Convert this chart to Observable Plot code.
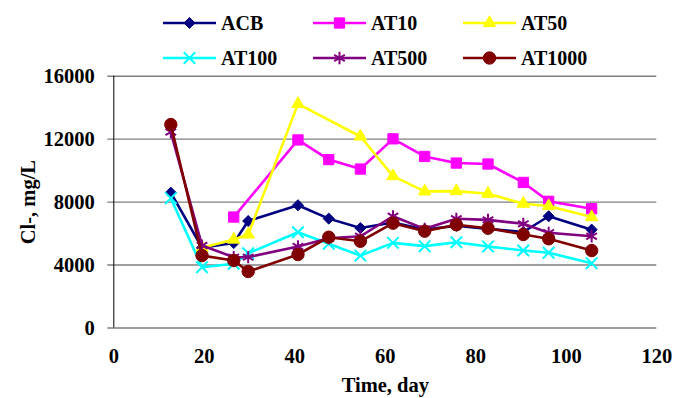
<!DOCTYPE html>
<html>
<head>
<meta charset="utf-8">
<script src="https://cdn.jsdelivr.net/npm/d3@7"></script>
<script src="https://cdn.jsdelivr.net/npm/@observablehq/plot@0.6"></script>
<style>
  html, body { margin: 0; padding: 0; background: #fff; }
  #wrap { width: 685px; height: 398px; font-family: "Liberation Serif", "DejaVu Serif", serif; }
  #legend { box-sizing: border-box; height: 62px; padding-left: 163px; padding-top: 5.5px;
            display: grid; grid-template-columns: repeat(3, 150px); grid-auto-rows: 35px; }
  .item { display: flex; align-items: center; gap: 4px; font-weight: bold; font-size: 20px; color: #000; }
  .item svg { display: block; }
  #chart svg text { font-family: "Liberation Serif", "DejaVu Serif", serif; }
</style>
</head>
<body>
<div id="wrap">
  <div id="legend"></div>
  <div id="chart"></div>
</div>
<script>
// ---- data ----
const days = [12.6, 19.5, 26.5, 29.7, 40.7, 47.5, 54.5, 61.7, 68.7, 75.7, 82.7, 90.5, 96.1, 105.6];
const seriesNames = ["ACB", "AT10", "AT50", "AT100", "AT500", "AT1000"];
const ACB    = [8600, 5100, 5400, 6800, 7800, 6950, 6350, 6700, 6250, 6500, 6300, 6100, 7100, 6250];
const AT10   = [null, null, 7050, null, 11950, 10700, 10100, 12020, 10900, 10480, 10420, 9250, 8050, 7580];
const AT50   = [null, 5100, 5620, 5940, 14240, null, 12170, 9650, 8680, 8700, 8530, 7900, 7750, 7050];
const AT100  = [8250, 3860, 4080, 4750, 6080, 5350, 4600, 5410, 5200, 5450, 5180, 4920, 4780, 4120];
const AT500  = [12450, 5240, 4500, 4500, 5180, 5700, 5830, 7100, 6300, 6940, 6870, 6620, 6050, 5830];
const AT1000 = [12930, 4600, 4290, 3590, 4670, 5770, 5510, 6660, 6150, 6560, 6340, 5940, 5670, 4920];
const xTicks = [0, 20, 40, 60, 80, 100, 120];
const yTicks = [0, 4000, 8000, 12000, 16000];
const colors = ["#000080", "#FF00FF", "#FFFF00", "#00FFFF", "#800080", "#800000"];

// ---- styles ----
const styles = [
  {symbol: "diamond2", r: 5.0, fill: true,  sw: 1},
  {symbol: "square",   r: 5.8, fill: true,  sw: 1},
  {symbol: "triangle", r: 4.6, fill: true,  sw: 1},
  {symbol: "times",    r: 5.3, fill: false, sw: 2},
  {symbol: "asterisk", r: 5.8, fill: false, sw: 2},
  {symbol: "circle",   r: 6.2, fill: true,  sw: 1}
];
const d3Symbols = {diamond2: d3.symbolDiamond2, square: d3.symbolSquare, triangle: d3.symbolTriangle,
                   times: d3.symbolTimes, asterisk: d3.symbolAsterisk, circle: d3.symbolCircle};

const allValues = [ACB, AT10, AT50, AT100, AT500, AT1000];
const rows = [];
seriesNames.forEach((s, i) => allValues[i].forEach((v, j) => {
  if (v != null) rows.push({series: s, day: days[j], value: v});
}));

const FONT = "'Liberation Serif', 'DejaVu Serif', serif";
const marks = [
  Plot.ruleY(yTicks, {stroke: "#7f7f7f", strokeWidth: 1.4, insetLeft: -6}),
  Plot.ruleX([0], {stroke: "#000", strokeWidth: 1})
];
seriesNames.forEach((s, i) => {
  const st = styles[i];
  const data = rows.filter(d => d.series === s);
  marks.push(Plot.line(data, {x: "day", y: "value", stroke: colors[i], strokeWidth: 2.6}));
  marks.push(Plot.dot(data, {x: "day", y: "value", symbol: st.symbol, r: st.r,
    fill: st.fill ? colors[i] : "none", stroke: colors[i], strokeWidth: st.sw}));
});
const fmt = d => String(d);
marks.push(Plot.axisX({ticks: xTicks, tickFormat: fmt, tickSize: 0, tickPadding: 20, fontSize: 20.5, fontWeight: "bold",
  label: "Time, day", labelAnchor: "center", labelOffset: 64, labelArrow: "none"}));
marks.push(Plot.axisY({ticks: yTicks, tickFormat: fmt, tickSize: 0, tickPadding: 19, fontSize: 20.5, fontWeight: "bold",
  label: "Cl-, mg/L", labelAnchor: "center", labelOffset: 93, labelArrow: "none"}));

const chart = Plot.plot({
  width: 685, height: 336,
  marginLeft: 113.3, marginRight: 28.7, marginTop: 13.7, marginBottom: 70.5,
  style: {fontFamily: FONT, color: "#000", background: "#fff", overflow: "visible"},
  x: {domain: [0, 120]},
  y: {domain: [0, 16000]},
  marks
});
document.getElementById("chart").appendChild(chart);

// ---- legend ----
const legend = d3.select("#legend");
seriesNames.forEach((s, i) => {
  const st = styles[i];
  const item = legend.append("div").attr("class", "item");
  const svg = item.append("svg").attr("width", 54).attr("height", 20);
  svg.append("line").attr("x1", 0).attr("x2", 53).attr("y1", 10).attr("y2", 10)
    .attr("stroke", colors[i]).attr("stroke-width", 2.6);
  svg.append("path").attr("transform", "translate(26.5,10)")
    .attr("d", d3.symbol(d3Symbols[st.symbol], Math.PI * st.r * st.r)())
    .attr("fill", st.fill ? colors[i] : "none").attr("stroke", colors[i]).attr("stroke-width", st.sw);
  item.append("span").text(s);
});
</script>
</body>
</html>
